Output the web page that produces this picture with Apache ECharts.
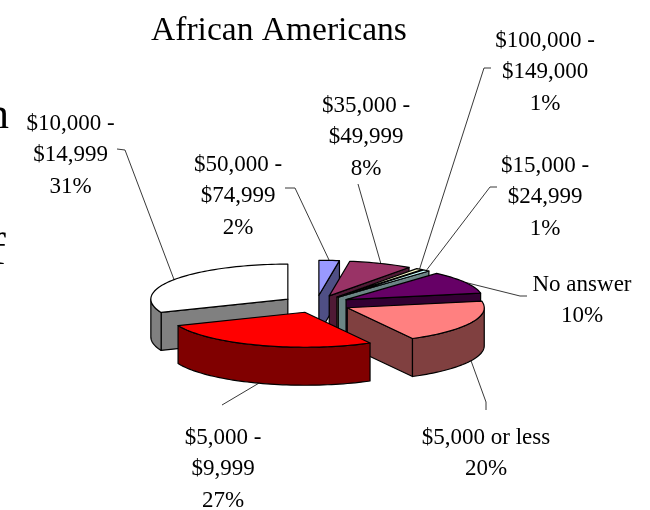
<!DOCTYPE html>
<html>
<head>
<meta charset="utf-8">
<style>html,body{margin:0;padding:0;background:#fff}#c{width:650px;height:510px}</style>
<script src="https://cdn.jsdelivr.net/npm/echarts@6/dist/echarts.min.js"></script>
</head>
<body>
<div id="c"></div>
<script>
// Data, clockwise from 12 o'clock
var categories = ['$50,000 -\n$74,999', '$35,000 -\n$49,999', '$100,000 -\n$149,000', '$15,000 -\n$24,999', 'No answer', '$5,000 or less', '$5,000 -\n$9,999', '$10,000 -\n$14,999'];
var shownPercents = ['2%', '8%', '1%', '1%', '10%', '20%', '27%', '31%'];
var values = [2.4, 7.5, 0.8, 0.8, 10.5, 20.1, 26.7, 31.2];
var topColors = ['#9999FF', '#993366', '#FFFFCC', '#CCFFFF', '#660066', '#FF8080', '#FF0000', '#FFFFFF'];
var wallColors = ['#4F4F85', '#4F1A35', '#6B6B4A', '#6B8585', '#330033', '#804040', '#800000', '#808080'];
// Paint order, back to front (indexes into the arrays above)
var paintOrder = [0, 1, 2, 3, 4, 5, 7, 6];

// Layout
var pie = { cx: 316.3, cy: 304, rx: 137, ry: 35, depth: 38, explode: 0.25 };
var labelCentres = [[238, 164.5], [366, 105.5], [545, 40.5], [545, 165.5], [582, 284.5], [486, 437.5], [223, 437.5], [70.5, 123.5]];
var labelLineHeight = 31.6;
var leaderEnds = [
  [[295, 188], [285, 188]], [[358, 184]], [[484, 68], [491, 68]], [[490, 187], [497, 187]],
  [[520, 296], [527, 296]], [[486, 402], [486, 410]], [[222, 405]], [[125, 150], [117, 149]]
];
var FONT = '"Liberation Serif","Times New Roman",serif';
var INK = '#000';

var total = values.reduce(function (a, b) { return a + b; }, 0);
var spans = [], running = 0;
values.forEach(function (v) {
  var a = running / total * 2 * Math.PI;
  running += v;
  spans.push([a, running / total * 2 * Math.PI]);
});

function apexOf(i) {
  var m = (spans[i][0] + spans[i][1]) / 2;
  return [pie.cx + pie.explode * pie.rx * Math.sin(m), pie.cy - pie.explode * pie.ry * Math.cos(m)];
}
function rim(ap, t, dz) {
  return [ap[0] + pie.rx * Math.sin(t), ap[1] - pie.ry * Math.cos(t) + (dz || 0)];
}
function arcPts(ap, a, b, dz) {
  var n = Math.max(2, Math.ceil((b - a) / 0.03)), out = [];
  for (var k = 0; k <= n; k++) out.push(rim(ap, a + (b - a) * k / n, dz));
  return out;
}
function poly(points, fill) {
  return { type: 'polygon', shape: { points: points }, style: { fill: fill, stroke: INK, lineWidth: 1.2, lineJoin: 'round' } };
}
function drawSlice(i) {
  var a = spans[i][0], b = spans[i][1], ap = apexOf(i), kids = [], wall = wallColors[i], d = pie.depth;
  var lowAp = [ap[0], ap[1] + d];
  function radial(t) {
    kids.push(poly([ap, rim(ap, t), rim(ap, t, d), lowAp], wall));
  }
  if (Math.sin(b) > 0) radial(b);
  if (Math.sin(a) < 0) radial(a);
  var f0 = Math.max(a, Math.PI / 2), f1 = Math.min(b, 3 * Math.PI / 2);
  if (f1 > f0) {
    kids.push(poly(arcPts(ap, f0, f1, 0).concat(arcPts(ap, f0, f1, d).reverse()), wall));
  }
  kids.push(poly([ap].concat(arcPts(ap, a, b, 0)), topColors[i]));
  return kids;
}
function drawLeader(i) {
  var m = (spans[i][0] + spans[i][1]) / 2, ap = apexOf(i);
  var front = Math.cos(m) < -0.2;
  var pts = [rim(ap, m, front ? pie.depth : 0)].concat(leaderEnds[i]);
  return { type: 'polyline', shape: { points: pts }, style: { fill: null, stroke: '#222', lineWidth: 0.9 } };
}
function drawLabel(i) {
  var lines = categories[i].split('\n').concat([shownPercents[i]]);
  return lines.map(function (line, k) {
    return { type: 'text', style: {
      text: line, x: labelCentres[i][0], y: labelCentres[i][1] + k * labelLineHeight,
      align: 'center', verticalAlign: 'middle', fill: '#000', font: '23px ' + FONT
    } };
  });
}

var chart = echarts.init(document.getElementById('c'), null, { renderer: 'canvas' });
chart.setOption({
  animation: false,
  backgroundColor: '#fff',
  title: { text: 'African Americans', left: 274, top: 9, textAlign: 'center',
    textStyle: { fontFamily: FONT, fontSize: 33.5, fontWeight: 'normal', color: '#000' } },
  graphic: [
    { type: 'text', left: -13, top: 94, style: { text: 'n', fill: '#000', font: '44px ' + FONT } },
    { type: 'text', left: -9, top: 230, style: { text: 'f', fill: '#000', font: '44px ' + FONT } }
  ],
  series: [{
    type: 'custom',
    coordinateSystem: 'none',
    data: values,
    renderItem: function (params) {
      if (params.dataIndex !== 0) return { type: 'group', children: [] };
      var kids = [];
      values.forEach(function (_, i) { kids.push(drawLeader(i)); });
      paintOrder.forEach(function (i) { kids = kids.concat(drawSlice(i)); });
      values.forEach(function (_, i) { kids = kids.concat(drawLabel(i)); });
      return { type: 'group', children: kids };
    }
  }]
});
</script>
</body>
</html>
